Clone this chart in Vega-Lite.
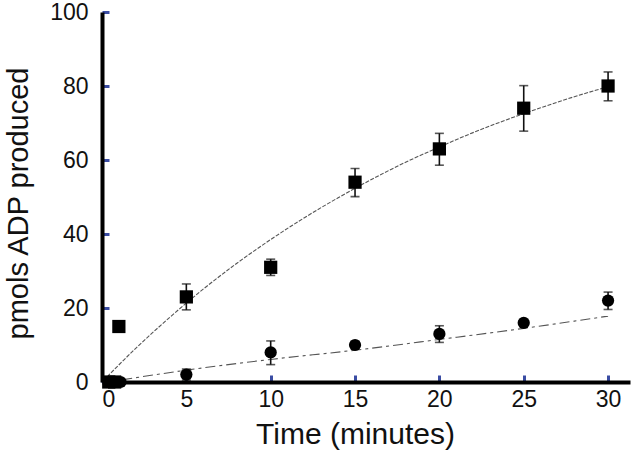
{
  "$schema": "https://vega.github.io/schema/vega-lite/v6.json",
  "autosize": "none",
  "padding": {"left": 102, "top": 12, "right": 3, "bottom": 82},
  "width": 528,
  "height": 370,
  "config": {
    "font": "Liberation Sans",
    "view": {"stroke": null},
    "axis": {
      "grid": false,
      "domainColor": "#000000",
      "domainWidth": 4,
      "tickColor": "#3a4ca3",
      "tickWidth": 3,
      "tickSize": -7,
      "labelFont": "Liberation Sans",
      "labelFontSize": 23,
      "labelColor": "#111111",
      "titleFont": "Liberation Sans",
      "titleFontSize": 30,
      "titleFontWeight": "normal",
      "titleColor": "#111111"
    }
  },
  "datasets": {
    "points": [
      {"series": "A", "time": 0.4, "value": 0},
      {"series": "A", "time": 0.75, "value": 0},
      {"series": "A", "time": 1, "value": 15},
      {"series": "A", "time": 5, "value": 23, "lo": 19.5, "hi": 26.5},
      {"series": "A", "time": 10, "value": 31, "lo": 28.8, "hi": 33.2},
      {"series": "A", "time": 15, "value": 54, "lo": 50.1, "hi": 57.7},
      {"series": "A", "time": 20, "value": 63, "lo": 58.6, "hi": 67.2},
      {"series": "A", "time": 25, "value": 74, "lo": 67.8, "hi": 80.1},
      {"series": "A", "time": 30, "value": 80, "lo": 76, "hi": 83.8},
      {"series": "B", "time": 0.5, "value": 0},
      {"series": "B", "time": 1.1, "value": 0},
      {"series": "B", "time": 5, "value": 2, "lo": 0.5, "hi": 3.5},
      {"series": "B", "time": 10, "value": 8, "lo": 4.7, "hi": 11.1},
      {"series": "B", "time": 15, "value": 10, "lo": 9, "hi": 11},
      {"series": "B", "time": 20, "value": 13, "lo": 10.7, "hi": 15.2},
      {"series": "B", "time": 25, "value": 16},
      {"series": "B", "time": 30, "value": 22, "lo": 19.6, "hi": 24.3}
    ],
    "fitA": [
      {"time": 0.3, "value": 1.4},
      {"time": 2, "value": 9.1},
      {"time": 4, "value": 17.4},
      {"time": 6, "value": 25.1},
      {"time": 8, "value": 32.1},
      {"time": 10, "value": 38.5},
      {"time": 12, "value": 44.4},
      {"time": 14, "value": 49.8},
      {"time": 16, "value": 54.8},
      {"time": 18, "value": 59.4},
      {"time": 20, "value": 63.5},
      {"time": 22, "value": 67.4},
      {"time": 24, "value": 70.9},
      {"time": 26, "value": 74.1},
      {"time": 28, "value": 77.1},
      {"time": 30, "value": 79.8}
    ],
    "fitB": [
      {"time": 1.2, "value": 0.6},
      {"time": 5, "value": 3.2},
      {"time": 10, "value": 6.1},
      {"time": 15, "value": 8.6},
      {"time": 20, "value": 11.5},
      {"time": 25, "value": 14.5},
      {"time": 30, "value": 17.8}
    ]
  },
  "layer": [
    {
      "data": {"name": "fitA"},
      "mark": {"type": "line", "color": "#555555", "strokeWidth": 1.1, "strokeDash": [4, 1.5], "interpolate": "monotone"},
      "encoding": {
        "x": {
          "field": "time", "type": "quantitative",
          "scale": {"domain": [0, 31.3], "nice": false},
          "axis": {"values": [0, 5, 10, 15, 20, 25, 30], "title": "Time (minutes)", "labelPadding": 13, "titlePadding": 8, "titleX": 253}
        },
        "y": {
          "field": "value", "type": "quantitative",
          "scale": {"domain": [0, 100], "nice": false},
          "axis": {"values": [0, 20, 40, 60, 80, 100], "title": "pmols ADP produced", "labelPadding": 21, "titlePadding": 16, "titleFontSize": 29, "titleY": 191}
        }
      }
    },
    {
      "data": {"name": "fitB"},
      "mark": {"type": "line", "color": "#555555", "strokeWidth": 1.1, "strokeDash": [10, 4, 3, 4], "interpolate": "monotone"},
      "encoding": {
        "x": {"field": "time", "type": "quantitative"},
        "y": {"field": "value", "type": "quantitative"}
      }
    },
    {
      "data": {"name": "points"},
      "transform": [{"filter": "isValid(datum.lo)"}],
      "mark": {"type": "rule", "color": "#111111", "strokeWidth": 1.6},
      "encoding": {
        "x": {"field": "time", "type": "quantitative"},
        "y": {"field": "lo", "type": "quantitative"},
        "y2": {"field": "hi"}
      }
    },
    {
      "data": {"name": "points"},
      "transform": [{"filter": "isValid(datum.lo)"}],
      "mark": {"type": "tick", "orient": "horizontal", "color": "#111111", "size": 9, "thickness": 1.6},
      "encoding": {
        "x": {"field": "time", "type": "quantitative"},
        "y": {"field": "lo", "type": "quantitative"}
      }
    },
    {
      "data": {"name": "points"},
      "transform": [{"filter": "isValid(datum.hi)"}],
      "mark": {"type": "tick", "orient": "horizontal", "color": "#111111", "size": 9, "thickness": 1.6},
      "encoding": {
        "x": {"field": "time", "type": "quantitative"},
        "y": {"field": "hi", "type": "quantitative"}
      }
    },
    {
      "data": {"name": "points"},
      "mark": {"type": "point", "filled": true, "opacity": 1, "color": "#000000"},
      "encoding": {
        "x": {"field": "time", "type": "quantitative"},
        "y": {"field": "value", "type": "quantitative"},
        "shape": {"field": "series", "type": "nominal", "scale": {"domain": ["A", "B"], "range": ["square", "circle"]}, "legend": null},
        "size": {"field": "series", "type": "nominal", "scale": {"domain": ["A", "B"], "range": [175, 150]}, "legend": null}
      }
    }
  ]
}
